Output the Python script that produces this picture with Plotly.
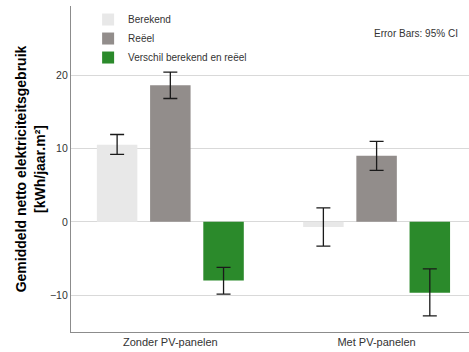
import plotly.graph_objects as go

categories = ["Zonder PV-panelen", "Met PV-panelen"]
series_names = ["Berekend", "Reëel", "Verschil berekend en reëel"]
means = {
    "Berekend": [10.5, -0.7],
    "Reëel": [18.6, 9.0],
    "Verschil berekend en reëel": [-8.0, -9.65],
}
ci_lower = {
    "Berekend": [9.2, -3.3],
    "Reëel": [16.8, 7.0],
    "Verschil berekend en reëel": [-9.85, -12.8],
}
ci_upper = {
    "Berekend": [11.9, 1.9],
    "Reëel": [20.4, 10.95],
    "Verschil berekend en reëel": [-6.2, -6.4],
}
y_ticks = [-10, 0, 10, 20]
colors = {"Berekend": "#e8e8e8", "Reëel": "#928d8b", "Verschil berekend en reëel": "#2b8a2b"}

xpos = list(range(len(categories)))
fig = go.Figure()
for name in series_names:
    m = means[name]
    up = [u - v for u, v in zip(ci_upper[name], m)]
    dn = [v - l for v, l in zip(m, ci_lower[name])]
    fig.add_trace(go.Bar(
        x=xpos, y=m, name=name,
        marker=dict(color=colors[name], line=dict(width=0)),
        error_y=dict(type="data", symmetric=False, array=up, arrayminus=dn,
                     color="#1a1a1a", thickness=1.3, width=7),
    ))

font = "Liberation Sans, Arial, sans-serif"
fig.update_layout(
    width=469, height=352,
    margin=dict(l=71, r=0, t=6, b=20),
    paper_bgcolor="white", plot_bgcolor="white",
    barmode="group", bargap=0.226, bargroupgap=0.239,
    font=dict(family=font, size=11, color="#333333"),
    showlegend=True,
    legend=dict(x=0.043, y=1.003, xanchor="left", yanchor="top",
                bgcolor="rgba(0,0,0,0)", font=dict(size=10, color="#333333"),
                tracegroupgap=0, itemwidth=30),
    xaxis=dict(range=[-0.4816, 1.448], tickvals=xpos, ticktext=categories,
               showgrid=False, zeroline=False, showline=True, linecolor="#8c8c8c",
               linewidth=1.3, ticks="", tickfont=dict(size=11, color="#333333")),
    yaxis=dict(range=[-15, 29.4], tickvals=y_ticks, showgrid=True, gridcolor="#d9d9d9",
               gridwidth=1.3, zeroline=True, zerolinecolor="#d9d9d9", zerolinewidth=1.3,
               showline=True, linecolor="#8c8c8c", linewidth=1.3, ticks="",
               tickfont=dict(size=10.5, color="#333333"),
               title=dict(text="Gemiddeld netto elektriciteitsgebruik<br>[kWh/jaar.m²]",
                          font=dict(family=font, size=14, color="#000000", weight="bold"),
                          standoff=1)),
    annotations=[dict(text="Error Bars: 95% CI", xref="paper", yref="paper",
                      x=0.978, y=0.915, xanchor="right", yanchor="middle",
                      showarrow=False, font=dict(size=10, color="#333333"))],
)
fig.write_html("out.html", config={"displayModeBar": False},
               post_script="document.body.style.margin='0';")
